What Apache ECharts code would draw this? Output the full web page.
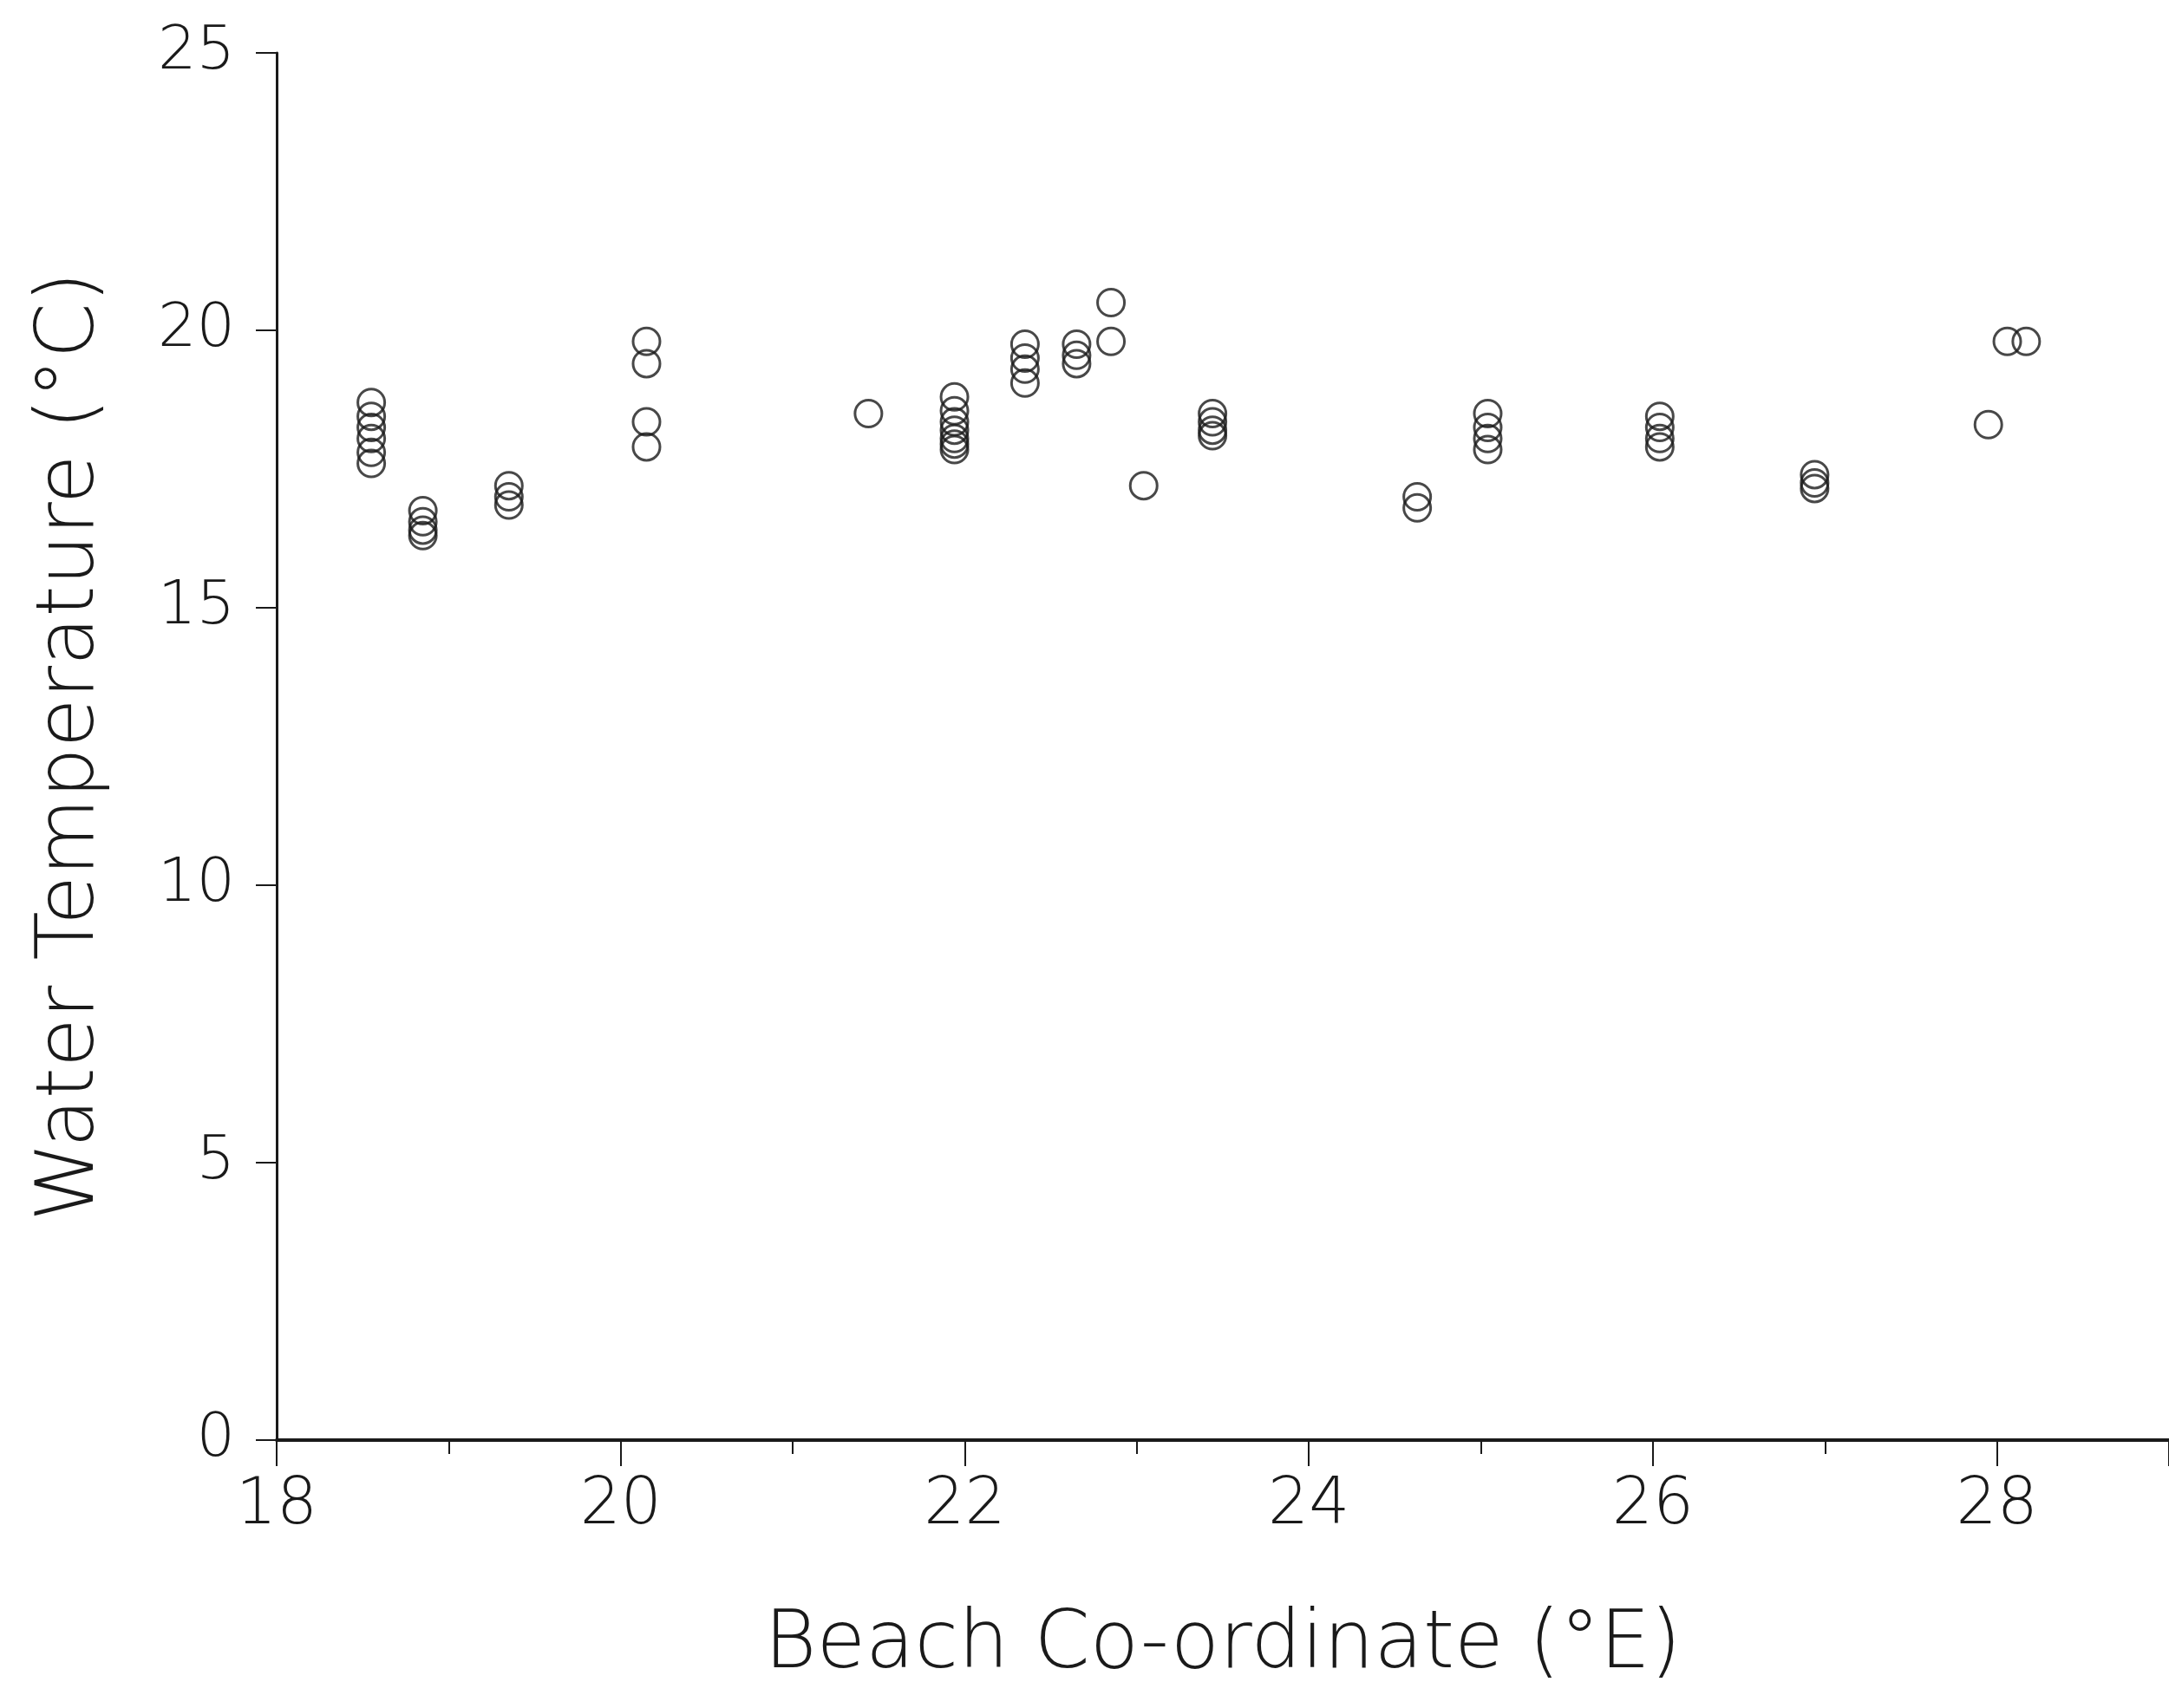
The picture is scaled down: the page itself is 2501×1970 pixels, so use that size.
<!DOCTYPE html>
<html>
<head>
<meta charset="utf-8">
<script src="https://cdn.jsdelivr.net/npm/echarts@6/dist/echarts.min.js"></script>
<style>
  html, body { margin: 0; padding: 0; background: #ffffff; }
  #chart { width: 2501px; height: 1970px; }
</style>
</head>
<body>
<div id="chart"></div>
<script>
// Beach co-ordinate (°E) of each sample
const beachLon = [
  18.55, 18.55, 18.55, 18.55, 18.55, 18.55,
  18.85, 18.85, 18.85, 18.85,
  19.35, 19.35, 19.35,
  20.15, 20.15, 20.15, 20.15,
  21.44,
  21.94, 21.94, 21.94, 21.94, 21.94, 21.94, 21.94,
  22.35, 22.35, 22.35, 22.35,
  22.65, 22.65, 22.65,
  22.85, 22.85,
  23.04,
  23.44, 23.44, 23.44, 23.44,
  24.63, 24.63,
  25.04, 25.04, 25.04, 25.04,
  26.04, 26.04, 26.04, 26.04,
  26.94, 26.94, 26.94,
  27.95,
  28.06, 28.17
];
// Water temperature (°C) of each sample
const waterTemp = [
  18.7, 18.45, 18.25, 18.05, 17.8, 17.6,
  16.75, 16.55, 16.4, 16.3,
  17.2, 17.0, 16.85,
  19.8, 19.4, 18.35, 17.9,
  18.5,
  18.8, 18.55, 18.35, 18.2, 18.05, 17.95, 17.85,
  19.75, 19.5, 19.3, 19.05,
  19.75, 19.55, 19.4,
  20.5, 19.8,
  17.2,
  18.5, 18.35, 18.2, 18.1,
  17.0, 16.8,
  18.5, 18.25, 18.05, 17.85,
  18.45, 18.25, 18.05, 17.9,
  17.4, 17.25, 17.15,
  18.3,
  19.8, 19.8
];
const xTitle = 'Beach Co-ordinate (°E)';
const yTitle = 'Water Temperature (°C)';

const points = beachLon.map((x, i) => [x, waterTemp[i]]);

const FONT = '"DejaVu Sans", Lato, sans-serif';
const INK = '#1a1a1a';

const chart = echarts.init(document.getElementById('chart'), null, { renderer: 'canvas' });
chart.setOption({
  backgroundColor: '#ffffff',
  animation: false,
  grid: { left: 319, right: 0, top: 61, bottom: 309, containLabel: false },
  xAxis: {
    type: 'value',
    min: 18, max: 29, interval: 2,
    name: xTitle,
    nameLocation: 'middle',
    nameGap: 192,
    nameTextStyle: { fontFamily: FONT, fontWeight: 200, fontSize: 92, color: INK },
    axisLine: { show: true, onZero: false, lineStyle: { color: INK, width: 4 } },
    axisTick: { show: true, inside: false, length: 30, lineStyle: { color: INK, width: 2 } },
    minorTick: { show: true, splitNumber: 2, length: 16, lineStyle: { color: INK, width: 2 } },
    axisLabel: { margin: 40, fontFamily: FONT, fontWeight: 200, fontSize: 74, color: INK, showMaxLabel: false },
    splitLine: { show: false },
    minorSplitLine: { show: false }
  },
  yAxis: {
    type: 'value',
    min: 0, max: 25, interval: 5,
    name: yTitle,
    nameLocation: 'middle',
    nameGap: 190,
    nameTextStyle: { fontFamily: FONT, fontWeight: 200, fontSize: 92, color: INK },
    axisLine: { show: true, onZero: false, lineStyle: { color: INK, width: 3 } },
    axisTick: { show: true, inside: false, length: 24, lineStyle: { color: INK, width: 2 } },
    axisLabel: { margin: 48, fontFamily: FONT, fontWeight: 200, fontSize: 70, color: INK },
    splitLine: { show: false }
  },
  series: [{
    type: 'scatter',
    data: points,
    symbol: 'circle',
    symbolSize: 31,
    itemStyle: { color: 'rgba(0,0,0,0)', borderColor: INK, borderWidth: 3 },
    emphasis: { disabled: true }
  }]
});
</script>
</body>
</html>
